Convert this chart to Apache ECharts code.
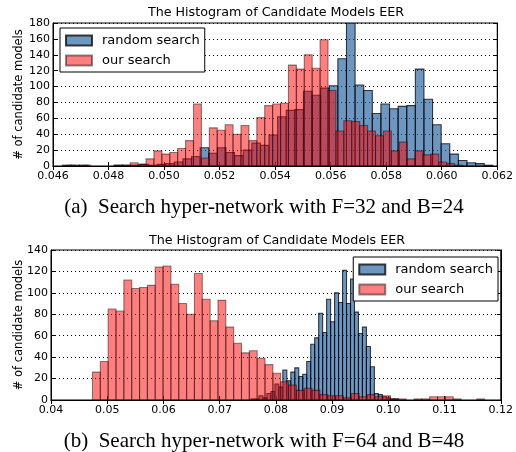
<!DOCTYPE html>
<html><head><meta charset="utf-8">
<script src="https://cdn.jsdelivr.net/npm/echarts@6/dist/echarts.min.js"></script>
<style>html,body{margin:0;padding:0;background:#fff}#c{width:516px;height:452px}</style>
</head><body><div id="c"></div>
<script>
const chartTitle = 'The Histogram of Candidate Models EER';
const yName = '# of candidate models';
const seriesNames = ['random search', 'our search'];
const captions = ['(a)  Search hyper-network with F=32 and B=24', '(b)  Search hyper-network with F=64 and B=48'];

// ---- (a) F=32, B=24 ----
const aXRange = [0.046, 0.062, 0.002];
const aYRange = [0, 180, 20];
const aRandomBin = [0.04634, 0.00031];
const aRandomCounts = [1,1,1,0,0,0,1,1,1,2, 1,2,3,5,9,12,23,16,23,17, 13,20,29,26,39,62,70,71,94,89, 98,101,135,180,102,95,66,78,72,75, 76,122,84,52,28,15,7,4,3,1];
const aOurBin = [0.0465, 0.000285];
const aOurCounts = [1,0,1,0,0,0,1,1,4,2, 9,19,15,17,22,32,78,10,48,45, 52,40,51,32,61,76,78,79,127,122, 140,123,159,95,44,57,56,51,44,38, 44,19,30,9,19,14,15,5,3,1];

// ---- (b) F=64, B=48 ----
const bXRange = [0.04, 0.12, 0.01];
const bYRange = [0, 140, 20];
const bRandomBin = [0.075574, 0.000708];
const bRandomCounts = [1,1,4,2,6,8,15,12,28,18, 26,30,22,24,36,52,58,81,63,94, 73,100,91,121,90,113,82,62,68,50, 31,6,5,3,2,1,1,0,0,0, 0,0,0,0,0,0,0,0,0,0];
const bOurBin = [0.04738, 0.001395];
const bOurCounts = [26,36,85,83,112,104,105,107,124,125, 108,90,80,118,94,74,93,68,53,44, 46,39,33,25,17,14,9,11,9,5, 4,4,2,6,3,5,3,4,1,1, 0,1,1,3,3,3,1,0,0,1];

function toBins(bin, counts) {
  return counts.map((c, i) => [bin[0] + i * bin[1], bin[0] + (i + 1) * bin[1], c]);
}

const BLUE = 'rgba(33,97,160,0.66)', BLUE_EDGE = 'rgba(0,0,0,0.75)';
const RED = 'rgba(255,0,0,0.5)', RED_EDGE = 'rgba(0,0,0,0.45)';
const FONT = 'DejaVu Sans';

function histSeries(name, data, gi, fill, stroke) {
  return {
    type: 'custom', name, data, xAxisIndex: gi * 2, yAxisIndex: gi * 2, clip: true,
    encode: { x: [0, 1], y: 2 },
    itemStyle: { color: fill, borderColor: stroke, borderWidth: 1 },
    renderItem: function (params, api) {
      const v = api.value(2);
      if (!(v > 0)) return null;
      const p0 = api.coord([api.value(0), v]);
      const p1 = api.coord([api.value(1), 0]);
      return { type: 'rect', shape: { x: p0[0], y: p0[1], width: p1[0] - p0[0], height: p1[1] - p0[1] },
               style: { fill: fill, stroke: stroke, lineWidth: 1.1 } };
    }
  };
}

function xAxes(range, gi, dec) {
  const base = { type: 'value', gridIndex: gi, min: range[0], max: range[1], interval: range[2],
    axisLine: { show: true, lineStyle: { color: '#000', width: 1 } },
    axisTick: { show: true, inside: true, length: 4, lineStyle: { color: '#000' } },
    splitLine: { show: false } };
  return [
    Object.assign({}, base, { position: 'bottom',
      axisLabel: { color: '#000', fontFamily: FONT, fontSize: 11, margin: 5, formatter: v => v.toFixed(dec) } }),
    Object.assign({}, base, { position: 'top', axisLabel: { show: false } })
  ];
}
function yAxes(range, gi, nameGap) {
  const base = { type: 'value', gridIndex: gi, min: range[0], max: range[1], interval: range[2],
    axisLine: { show: true, lineStyle: { color: '#000', width: 1 } },
    axisTick: { show: true, inside: true, length: 4, lineStyle: { color: '#000' } } };
  return [
    Object.assign({}, base, { position: 'left', name: yName, nameLocation: 'middle', nameGap: nameGap,
      nameMoveOverlap: false,
      nameTextStyle: { color: '#000', fontFamily: FONT, fontSize: 11.5 },
      axisLabel: { color: '#000', fontFamily: FONT, fontSize: 11, margin: 3 },
      splitLine: { show: true, lineStyle: { color: '#000', type: [1, 3], width: 1 } } }),
    Object.assign({}, base, { position: 'right', axisLabel: { show: false }, splitLine: { show: false } })
  ];
}

const legendBase = {
  orient: 'vertical', data: seriesNames, icon: 'rect', itemWidth: 26, itemHeight: 10, itemGap: 7,
  padding: [6, 5, 5, 5], backgroundColor: '#fff', borderColor: '#000', borderWidth: 1, borderRadius: 0,
  textStyle: { color: '#000', fontFamily: FONT, fontSize: 13, padding: [0, 0, 0, 5] }, selectedMode: false
};

const chart = echarts.init(document.getElementById('c'), null, { renderer: 'canvas' });
chart.setOption({
  animation: false,
  backgroundColor: '#fff',
  grid: [
    { left: 53, top: 23, width: 446, height: 143, show: true, borderColor: '#000', borderWidth: 1 },
    { left: 51, top: 250, width: 452, height: 150, show: true, borderColor: '#000', borderWidth: 1 }
  ],
  xAxis: [...xAxes(aXRange, 0, 3), ...xAxes(bXRange, 1, 2)],
  yAxis: [...yAxes(aYRange, 0, 28), ...yAxes(bYRange, 1, 26)],
  legend: [
    Object.assign({}, legendBase, { left: 60, top: 28 }),
    Object.assign({}, legendBase, { right: 18, top: 257 })
  ],
  series: [
    histSeries(seriesNames[0], toBins(aRandomBin, aRandomCounts), 0, BLUE, BLUE_EDGE),
    histSeries(seriesNames[1], toBins(aOurBin, aOurCounts), 0, RED, RED_EDGE),
    histSeries(seriesNames[0], toBins(bRandomBin, bRandomCounts), 1, BLUE, BLUE_EDGE),
    histSeries(seriesNames[1], toBins(bOurBin, bOurCounts), 1, RED, RED_EDGE)
  ],
  graphic: [
    { type: 'text', x: 276, y: 13, style: { text: chartTitle, align: 'center', verticalAlign: 'middle', font: '12.7px "DejaVu Sans"', fill: '#000' } },
    { type: 'text', x: 277, y: 241, style: { text: chartTitle, align: 'center', verticalAlign: 'middle', font: '12.7px "DejaVu Sans"', fill: '#000' } },
    { type: 'text', x: 264, y: 207, style: { text: captions[0], align: 'center', verticalAlign: 'middle', font: '21px "Liberation Serif"', fill: '#000' } },
    { type: 'text', x: 264, y: 441, style: { text: captions[1], align: 'center', verticalAlign: 'middle', font: '21px "Liberation Serif"', fill: '#000' } }
  ]
});
</script></body></html>
